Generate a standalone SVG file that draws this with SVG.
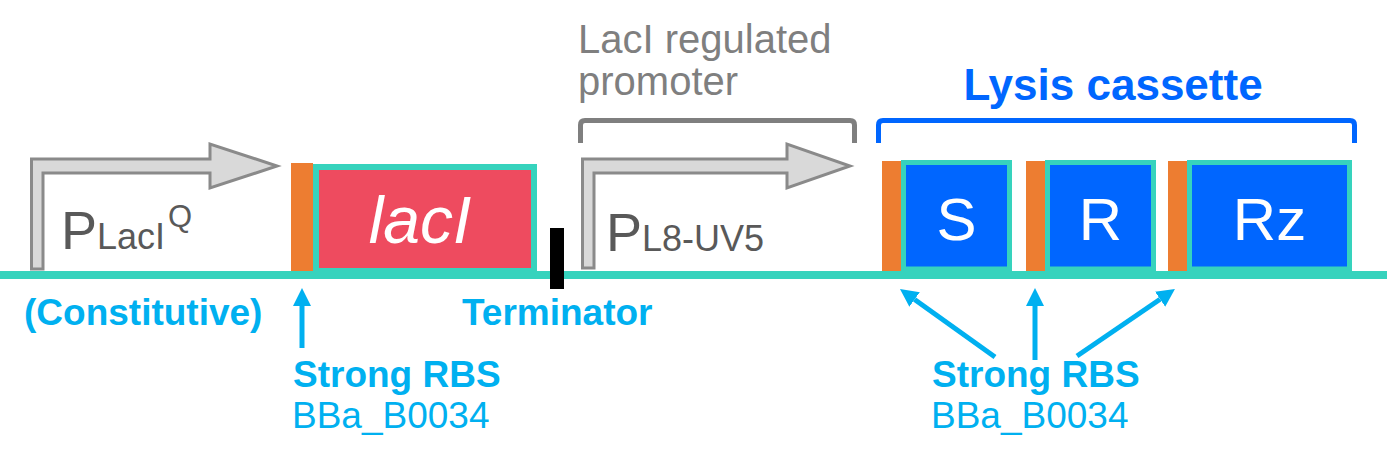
<svg xmlns="http://www.w3.org/2000/svg" width="1387" height="462" viewBox="0 0 1387 462">
<defs>
<style>
text{font-family:"Liberation Sans",Arial,sans-serif}
.prom{fill:#d9d9d9;stroke:#8a8a8a;stroke-width:3;stroke-linejoin:miter}
.rbs{fill:#ed7d31}
.cds-red{fill:#ee4b5f;stroke:#36d3bd;stroke-width:6}
.cds-blue{fill:#0066ff;stroke:#36d3bd;stroke-width:5}
.ptxt{fill:#595959}
.gene{fill:#ffffff;font-size:60px;text-anchor:middle}
.lbl{fill:#00b0f0;font-size:37px}
.b{font-weight:bold}
.arr{stroke:#00b0f0;stroke-width:5;fill:none;marker-end:url(#ah)}
.brk{fill:none;stroke-width:5;stroke-linecap:butt}
</style>
<marker id="ah" markerUnits="userSpaceOnUse" markerWidth="20" markerHeight="20" refX="0" refY="9" orient="auto" viewBox="0 0 20 20">
<path d="M0,0 L18,9 L0,18 Z" fill="#00b0f0"/>
</marker>
</defs>
<rect width="1387" height="462" fill="#ffffff"/>

<g id="backbone">
<rect x="0" y="271" width="1387" height="8" fill="#36d3bd"/>
</g>

<g id="promoter-lacIQ">
<path class="prom" d="M31.5 269 L31.5 159 L210 159 L210 144 L277 166 L210 188 L210 173 L43 173 L43 269 Z"/>
<text class="ptxt" x="61" y="249" font-size="54">P<tspan font-size="36">LacI</tspan><tspan font-size="31" dx="3" dy="-22">Q</tspan></text>
</g>

<g id="rbs-1">
<rect class="rbs" x="291" y="163" width="22" height="108"/>
</g>

<g id="gene-lacI">
<rect class="cds-red" x="316" y="167" width="218" height="104"/>
<text x="420" y="243" font-size="66" font-style="italic" fill="#ffffff" text-anchor="middle">lacI</text>
</g>

<g id="terminator">
<rect x="550" y="228" width="14" height="61" fill="#000000"/>
</g>

<g id="promoter-L8UV5">
<path class="prom" d="M582.5 268 L582.5 159 L787 159 L787 144 L850 166 L787 188 L787 173 L594 173 L594 268 Z"/>
<text class="ptxt" x="606" y="251" font-size="54">P<tspan font-size="36">L8-UV5</tspan></text>
</g>

<g id="bracket-promoter">
<path class="brk" stroke="#7f7f7f" d="M580.5 143 V125 Q580.5 120.5 585 120.5 H850 Q854.5 120.5 854.5 125 V143"/>
<text x="578" y="53" font-size="40" fill="#7f7f7f">LacI regulated</text>
<text x="578" y="95" font-size="40" fill="#7f7f7f">promoter</text>
</g>

<g id="bracket-lysis">
<path class="brk" stroke="#0066ff" d="M878.5 143 V125 Q878.5 120.5 883 120.5 H1350 Q1354.5 120.5 1354.5 125 V143"/>
<text x="1113" y="100" font-size="44" font-weight="bold" fill="#0066ff" text-anchor="middle">Lysis cassette</text>
</g>

<g id="rbs-2">
<rect class="rbs" x="882" y="161" width="19" height="110"/>
</g>
<g id="gene-S">
<rect class="cds-blue" x="903.5" y="162.5" width="106" height="106.5"/>
<text class="gene" x="956.5" y="240">S</text>
</g>

<g id="rbs-3">
<rect class="rbs" x="1026" y="161" width="19" height="110"/>
</g>
<g id="gene-R">
<rect class="cds-blue" x="1047.5" y="162.5" width="106" height="106.5"/>
<text class="gene" x="1100.5" y="240">R</text>
</g>

<g id="rbs-4">
<rect class="rbs" x="1168" y="161" width="19" height="110"/>
</g>
<g id="gene-Rz">
<rect class="cds-blue" x="1189.5" y="162.5" width="160" height="106.5"/>
<text class="gene" x="1269.5" y="240">Rz</text>
</g>

<g id="labels">
<text class="lbl b" x="24" y="325">(Constitutive)</text>
<text class="lbl b" x="462" y="325">Terminator</text>
<text class="lbl b" x="293" y="387">Strong RBS</text>
<text class="lbl" x="292" y="428">BBa_B0034</text>
<text class="lbl b" x="932" y="387">Strong RBS</text>
<text class="lbl" x="931" y="428">BBa_B0034</text>
</g>

<g id="connectors">
<path class="arr" d="M302 348 L302 306"/>
<path class="arr" d="M995 357 L914.6 299.5"/>
<path class="arr" d="M1035 360 L1035 306"/>
<path class="arr" d="M1077 356 L1160.1 299.2"/>
</g>
</svg>
